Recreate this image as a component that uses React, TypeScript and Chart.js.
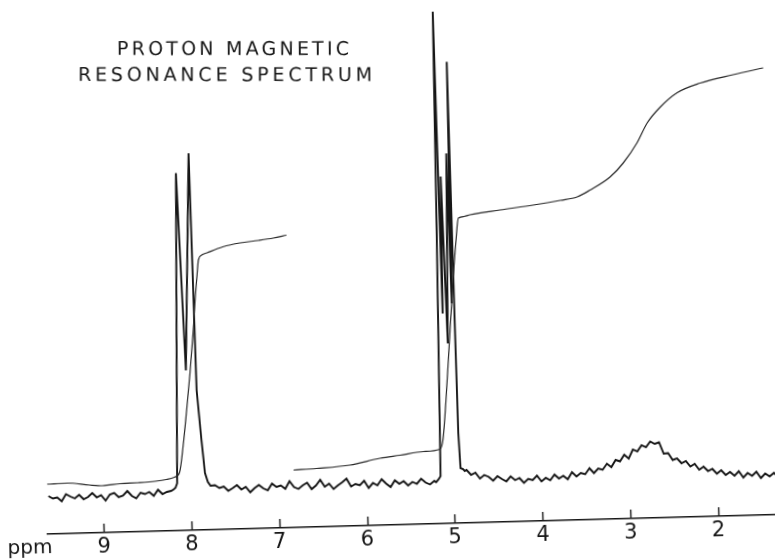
import React, { useEffect, useRef } from 'react';
import { Chart, registerables } from 'chart.js';

Chart.register(...registerables);

const W = 775;
const H = 559;
const TILT_DEG = 1.53; // the scanned chart paper is slightly rotated

// x axis (chemical shift, ppm, reversed)
const X_MAX = 9.64;
const X_MIN = 1.278;
const tickValues = [9, 8, 7, 6, 5, 4, 3, 2];
const axisUnit = 'ppm';
const titleLines = ['PROTON MAGNETIC', 'RESONANCE SPECTRUM'];

// ---- spectrum trace (relative intensity) ----
const baseLeftPpm = [9.62, 9.57, 9.52, 9.47, 9.42, 9.37, 9.32, 9.27, 9.22, 9.17, 9.12, 9.07, 9.02, 8.97, 8.92, 8.87, 8.82, 8.77, 8.72, 8.67, 8.62, 8.57, 8.52, 8.47, 8.42, 8.37, 8.32, 8.27, 8.22];
const baseLeftVal = [7.6, 7.1, 7.3, 6.5, 7.9, 7.4, 7.0, 7.7, 6.8, 7.2, 8.0, 7.1, 7.5, 6.4, 7.6, 7.9, 7.0, 7.3, 8.2, 7.2, 6.7, 7.8, 7.5, 7.9, 7.1, 8.3, 7.4, 7.8, 8.0];

const peak8Ppm = [8.19, 8.17, 8.15, 8.07, 8.016, 7.92, 7.9, 7.86, 7.83, 7.8, 7.77];
const peak8Val = [8.3, 8.6, 9.5, 71.5, 32, 75.4, 28, 18, 11.4, 9.6, 8.8];

const baseMidPpm = [7.72, 7.67, 7.62, 7.57, 7.52, 7.47, 7.42, 7.37, 7.32, 7.27, 7.22, 7.17, 7.12, 7.07, 7.02, 6.97, 6.92, 6.87, 6.82, 6.77, 6.72, 6.67, 6.62, 6.57, 6.52, 6.47, 6.42, 6.37, 6.32, 6.27, 6.22, 6.17, 6.12, 6.07, 6.02, 5.97, 5.92, 5.87, 5.82, 5.77, 5.72, 5.67, 5.62, 5.57, 5.52, 5.47, 5.42, 5.37, 5.32, 5.27, 5.22];
const baseMidVal = [8.9, 8.3, 8.6, 7.7, 8.2, 8.8, 7.9, 8.4, 7.3, 8.1, 8.7, 8.0, 7.6, 8.9, 8.2, 8.5, 7.8, 9.3, 8.1, 7.7, 8.4, 8.9, 7.6, 8.3, 9.4, 8.0, 8.6, 7.5, 8.2, 8.8, 9.5, 7.9, 8.4, 8.1, 9.0, 7.5, 8.5, 8.0, 9.2, 8.3, 7.6, 8.9, 8.2, 8.7, 7.8, 8.5, 8.1, 9.1, 8.3, 7.9, 8.6];

const peak5Ppm = [5.2, 5.17, 5.148, 5.118, 5.096, 5.075, 5.056, 5.025, 4.985, 4.968, 4.952, 4.94, 4.933, 4.918, 4.89, 4.87];
const peak5Val = [8.3, 8.9, 9.5, 58, 102.4, 42, 69.4, 36, 74, 44, 92.3, 40, 18, 11, 10.8, 10.4];

const baseRightPpm = [4.85, 4.8, 4.75, 4.7, 4.65, 4.6, 4.55, 4.5, 4.45, 4.4, 4.35, 4.3, 4.25, 4.2, 4.15, 4.1, 4.05, 4.0, 3.95, 3.9, 3.85, 3.8, 3.75, 3.7, 3.65, 3.6, 3.55, 3.5, 3.45, 3.4, 3.35, 3.3, 3.25, 3.2, 3.15, 3.1, 3.05, 3.0, 2.95, 2.9, 2.85, 2.8, 2.75, 2.7, 2.65, 2.6, 2.55, 2.5, 2.45, 2.4, 2.35, 2.3, 2.25, 2.2, 2.15, 2.1, 2.05, 2.0, 1.95, 1.9, 1.85, 1.8, 1.75, 1.7, 1.65, 1.6, 1.55, 1.5, 1.45, 1.4, 1.35, 1.3];
const baseRightVal = [10.6, 9.6, 10.0, 8.8, 9.5, 9.1, 8.3, 9.2, 8.6, 8.1, 9.1, 8.3, 8.7, 7.7, 8.5, 8.2, 9.1, 7.9, 8.6, 8.1, 9.2, 8.4, 8.9, 8.2, 9.6, 8.7, 9.4, 9.1, 10.3, 9.3, 10.2, 9.9, 11.1, 10.4, 11.8, 11.5, 12.8, 12.0, 13.8, 13.4, 14.6, 14.2, 15.3, 14.8, 15.1, 12.8, 12.9, 11.5, 11.8, 10.8, 11.2, 10.1, 10.6, 9.4, 10.0, 9.1, 9.5, 8.5, 9.2, 8.2, 8.8, 8.0, 8.9, 7.6, 8.5, 7.9, 8.7, 7.4, 8.3, 7.7, 8.4, 7.5];

// ---- integral trace (two pen runs) ----
const integral1Ppm = [9.63, 9.4, 9.15, 9.0, 8.8, 8.6, 8.4, 8.27, 8.18, 8.12, 8.07, 8.02, 7.97, 7.92, 7.89, 7.86, 7.84, 7.8, 7.74, 7.56, 7.36, 7.15, 6.98, 6.83];
const integral1Val = [10.0, 10.1, 9.6, 9.4, 9.7, 9.8, 10.0, 10.3, 10.7, 11.6, 17, 24, 31.5, 40, 46, 51, 54, 55, 55.4, 56.5, 57.2, 57.6, 58, 58.5];
const integral2Ppm = [6.82, 6.556, 6.176, 5.833, 5.604, 5.337, 5.146, 5.11, 5.063, 4.995, 4.946, 4.9, 4.867, 4.8, 4.733, 4.389, 4.012, 3.7, 3.508, 3.358, 3.127, 2.974, 2.809, 2.688, 2.535, 2.337, 2.073, 1.694, 1.35];
const integral2Val = [11.5, 11.7, 12.2, 13.4, 13.9, 14.5, 14.9, 16.7, 24.7, 38.7, 48.6, 56.6, 61.0, 61.3, 61.6, 62.4, 63.2, 64.0, 64.6, 65.9, 68.4, 71.1, 75.1, 79.0, 82.1, 84.9, 86.7, 88.2, 89.4];

const INK = '#161616';

function zip(p: number[], v: number[]) {
  return p.map((x, i) => ({ x, y: v[i] }));
}

export default function App() {
  const ref = useRef<HTMLCanvasElement>(null);

  useEffect(() => {
    const canvas = ref.current;
    if (!canvas) return;

    const spectrum = [
      ...zip(baseLeftPpm, baseLeftVal),
      ...zip(peak8Ppm, peak8Val),
      ...zip(baseMidPpm, baseMidVal),
      ...zip(peak5Ppm, peak5Val),
      ...zip(baseRightPpm, baseRightVal),
    ];
    const integral: { x: number; y: number | null }[] = [
      ...zip(integral1Ppm, integral1Val),
      { x: 6.825, y: null },
      ...zip(integral2Ppm, integral2Val),
    ];

    const decor = {
      id: 'decor',
      afterDraw(chart: any) {
        const ctx = chart.ctx as CanvasRenderingContext2D;
        const xs = chart.scales.x;
        const area = chart.chartArea;
        ctx.save();
        // upward tick marks
        ctx.strokeStyle = INK;
        ctx.lineWidth = 1.4;
        ctx.beginPath();
        for (const t of xs.ticks) {
          const px = Math.round(xs.getPixelForValue(t.value)) + 0.5;
          ctx.moveTo(px, area.bottom);
          ctx.lineTo(px, area.bottom - 9);
        }
        ctx.stroke();
        // unit label
        ctx.fillStyle = INK;
        ctx.font = '20px "DejaVu Sans"';
        ctx.textAlign = 'center';
        ctx.textBaseline = 'alphabetic';
        ctx.fillText(axisUnit, area.left - 18, area.bottom + 18.5);
        // title (level on the page, so undo the paper tilt)
        ctx.translate(W / 2, H / 2);
        ctx.rotate((TILT_DEG * Math.PI) / 180);
        ctx.translate(-W / 2, -H / 2);
        ctx.font = '19px "DejaVu Sans"';
        ctx.textAlign = 'left';
        const layout = [
          { left: 117, right: 349, base: 55 },
          { left: 78, right: 372, base: 81 },
        ];
        titleLines.forEach((line, i) => {
          const L = layout[i];
          (ctx as any).letterSpacing = '0px';
          const w = ctx.measureText(line).width;
          const sp = (L.right - L.left - w) / (line.length - 1);
          (ctx as any).letterSpacing = `${sp}px`;
          ctx.fillText(line, L.left, L.base);
        });
        ctx.restore();
      },
    };

    const chart = new Chart(canvas, {
      type: 'line',
      data: {
        datasets: [
          {
            data: integral as any,
            borderColor: '#262626',
            borderWidth: 1.2,
            pointRadius: 0,
            cubicInterpolationMode: 'monotone',
            spanGaps: false,
          },
          {
            data: spectrum as any,
            borderColor: INK,
            borderWidth: 1.9,
            pointRadius: 0,
            tension: 0,
          },
        ],
      },
      options: {
        animation: false,
        responsive: false,
        devicePixelRatio: 1,
        layout: { padding: { left: 41, right: 0, top: 0, bottom: 0 } },
        plugins: {
          legend: { display: false },
          tooltip: { enabled: false },
          title: { display: false },
        },
        scales: {
          x: {
            type: 'linear',
            reverse: true,
            min: X_MIN,
            max: X_MAX,
            afterBuildTicks: (s: any) => {
              s.ticks = tickValues.map((v) => ({ value: v }));
            },
            afterFit: (s: any) => {
              s.height = 34;
            },
            grid: { display: false, drawOnChartArea: false, drawTicks: false },
            border: { display: true, color: INK, width: 1.5 },
            ticks: {
              color: INK,
              font: { family: 'DejaVu Sans', size: 21 },
              padding: 2,
              autoSkip: false,
              maxRotation: 0,
              callback: (v: any) => String(v),
            },
          },
          y: { display: false, min: 0, max: 105 },
        },
      },
      plugins: [decor],
    });

    return () => chart.destroy();
  }, []);

  return (
    <div style={{ position: 'fixed', left: 0, top: 0, width: W, height: H, overflow: 'hidden', background: '#fff' }}>
      <div
        style={{
          position: 'absolute',
          left: 0,
          top: 0,
          width: W,
          height: H,
          transform: `rotate(-${TILT_DEG}deg)`,
        }}
      >
        <canvas ref={ref} width={W} height={H} style={{ display: 'block', width: W, height: H }} />
      </div>
    </div>
  );
}
